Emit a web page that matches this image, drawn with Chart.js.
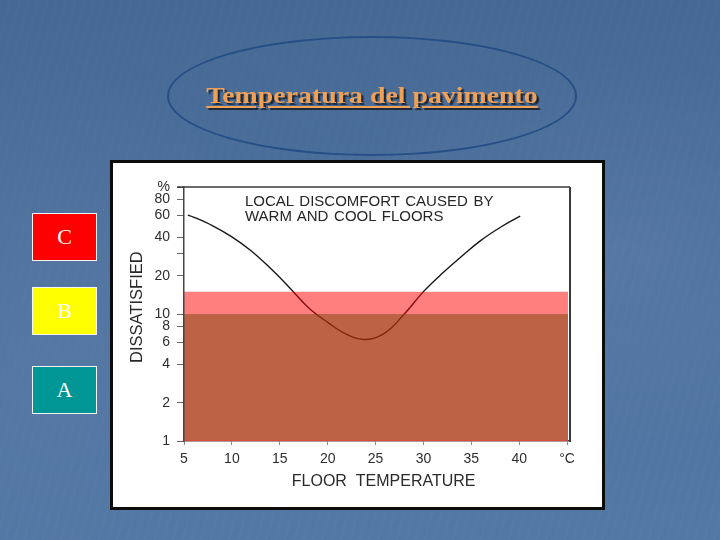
<!DOCTYPE html>
<html><head><meta charset="utf-8">
<script src="https://cdn.jsdelivr.net/npm/chart.js@4.4.1/dist/chart.umd.min.js"></script>
<style>
html,body{margin:0;padding:0;width:720px;height:540px;overflow:hidden;}
body{position:relative;background:linear-gradient(180deg,#466994 0%,#4c709d 45%,#5478a5 100%);}
#tex{position:absolute;left:0;top:0;width:720px;height:540px;
 background:radial-gradient(ellipse 300px 200px at 620px 250px,rgba(255,255,255,0.05),rgba(255,255,255,0)),
 radial-gradient(ellipse 200px 260px at 60px 300px,rgba(255,255,255,0.04),rgba(255,255,255,0)),
 repeating-linear-gradient(105deg,rgba(255,255,255,0.012) 0 2px,rgba(0,0,0,0) 2px 9px);}
#ell{position:absolute;left:167px;top:36px;width:406px;height:116px;border:2.5px solid #254f85;border-radius:50%;}
#ttl{position:absolute;left:172px;width:400px;top:83px;text-align:center;font-family:"Liberation Serif","Times New Roman",serif;
 font-weight:bold;font-size:24px;line-height:24px;color:#EFA157;text-decoration:underline;text-decoration-thickness:2px;text-underline-offset:3px;
 text-shadow:2px 2px 1px #1e2a3a;transform:scaleX(1.16);transform-origin:50% 50%;white-space:nowrap;}
.lvl{position:absolute;left:32px;width:65px;height:48px;box-sizing:border-box;border:1px solid #f4f4f4;color:#fff;
 font-family:"Liberation Serif","Times New Roman",serif;font-size:22px;line-height:46px;text-align:center;}
#box{position:absolute;left:110px;top:160px;width:495px;height:350px;box-sizing:border-box;border:3px solid #0c0c0c;background:#fff;}
#note{position:absolute;left:245px;top:193px;font-family:"Liberation Sans",Arial,sans-serif;font-size:15px;line-height:15px;color:#262626;word-spacing:1.5px;white-space:nowrap;z-index:3;}
#c{position:absolute;left:0;top:0;z-index:2;}
</style></head>
<body>
<div id="tex"></div>
<div id="ell"></div>
<div id="ttl">Temperatura del pavimento</div>
<div class="lvl" style="top:213px;background:#ff0000;">C</div>
<div class="lvl" style="top:287px;background:#ffff00;">B</div>
<div class="lvl" style="top:366px;background:#009696;">A</div>
<div id="box"></div>
<canvas id="c" width="720" height="540"></canvas>
<div id="note">LOCAL DISCOMFORT CAUSED BY<br>WARM AND COOL FLOORS</div>
<script>
// Data
const curveTemp = [5.4, 6, 8, 10, 12, 14, 16, 18, 20, 22, 24, 26, 28, 30, 32, 34, 36, 38, 40.1];
const curveDissatisfied = [60, 58, 49.5, 40.5, 31.5, 23, 16.2, 11.2, 8.6, 6.9, 6.3, 7.1, 10, 15, 21, 28.5, 38, 48, 59];
const bandTemp = [5, 45.1];
const limitUpper = 15;
const limitMiddle = 10;
const limitLower = 1;
const xTicks = [5, 10, 15, 20, 25, 30, 35, 40, 45];
const xTickLabels = ['5', '10', '15', '20', '25', '30', '35', '40', '°C'];
const yTicks = [1, 2, 4, 6, 8, 10, 20, 30, 40, 60, 80, 100];
const yTickLabels = ['1', '2', '4', '6', '8', '10', '20', '', '40', '60', '80', '%'];

const FONT = '"Liberation Sans", Arial, sans-serif';

const framePlugin = {
  id: 'frame',
  afterDatasetsDraw(chart) {
    const {ctx, chartArea: a} = chart;
    ctx.save();
    ctx.strokeStyle = '#3a3a3a';
    ctx.lineWidth = 1.5;
    ctx.beginPath();
    ctx.moveTo(a.left - 7, a.top);
    ctx.lineTo(a.right, a.top);
    ctx.stroke();
    ctx.lineWidth = 2;
    ctx.beginPath();
    ctx.moveTo(a.right, a.top);
    ctx.lineTo(a.right, a.bottom + 1);
    ctx.stroke();
    ctx.restore();
  }
};

new Chart(document.getElementById('c'), {
  type: 'line',
  data: {
    datasets: [
      {
        label: 'C',
        data: bandTemp.map(x => ({x: x, y: limitUpper})),
        fill: {value: limitMiddle},
        backgroundColor: 'rgba(255,0,0,0.5)',
        borderWidth: 0, pointRadius: 0, order: 1
      },
      {
        label: 'B',
        data: bandTemp.map(x => ({x: x, y: limitMiddle})),
        fill: {value: limitLower},
        backgroundColor: 'rgba(167,47,7,0.75)',
        borderWidth: 0, pointRadius: 0, order: 1
      },
      {
        label: 'base',
        data: bandTemp.map(x => ({x: x, y: limitLower})),
        fill: false,
        borderColor: '#e0453a',
        borderWidth: 2, pointRadius: 0, order: 0
      },
      {
        label: 'Dissatisfied',
        data: curveTemp.map((x, i) => ({x: x, y: curveDissatisfied[i]})),
        fill: false,
        borderColor: '#161616',
        borderWidth: 1.4, pointRadius: 0,
        tension: 0.4,
        order: 2
      }
    ]
  },
  options: {
    responsive: false,
    animation: false,
    events: [],
    layout: {padding: {left: 113, top: 187, right: 150, bottom: 30}},
    plugins: {legend: {display: false}, tooltip: {enabled: false}, title: {display: false}},
    scales: {
      x: {
        type: 'linear', min: 5, max: 45.3,
        afterBuildTicks: s => { s.ticks = xTicks.map(v => ({value: v})); },
        afterFit: s => { s.height = 69; },
        ticks: {
          autoSkip: false, maxRotation: 0, padding: 6, color: '#2e2e2e',
          font: {family: FONT, size: 14},
          callback: v => xTickLabels[xTicks.indexOf(v)]
        },
        grid: {display: true, drawOnChartArea: false, drawTicks: true, tickLength: 4, color: '#888'},
        border: {display: true, color: '#444', width: 1.5},
        title: {display: true, text: '   FLOOR  TEMPERATURE', color: '#2a2a2a',
          font: {family: FONT, size: 16}, padding: {top: 0, bottom: 19}}
      },
      y: {
        type: 'logarithmic', min: 1, max: 100,
        afterBuildTicks: s => { s.ticks = yTicks.map(v => ({value: v})); },
        afterFit: s => { s.width = 71; },
        ticks: {
          autoSkip: false, padding: 7, color: '#2e2e2e',
          font: {family: FONT, size: 14},
          callback: v => yTickLabels[yTicks.indexOf(v)]
        },
        grid: {display: true, drawOnChartArea: false, drawTicks: true, tickLength: 7, color: '#666'},
        border: {display: true, color: '#444', width: 1.5, z: 1},
        title: {display: true, text: '   DISSATISFIED', color: '#2a2a2a',
          font: {family: FONT, size: 16.5}, padding: {top: 15, bottom: 0}}
      }
    }
  },
  plugins: [framePlugin]
});
</script>
</body></html>
